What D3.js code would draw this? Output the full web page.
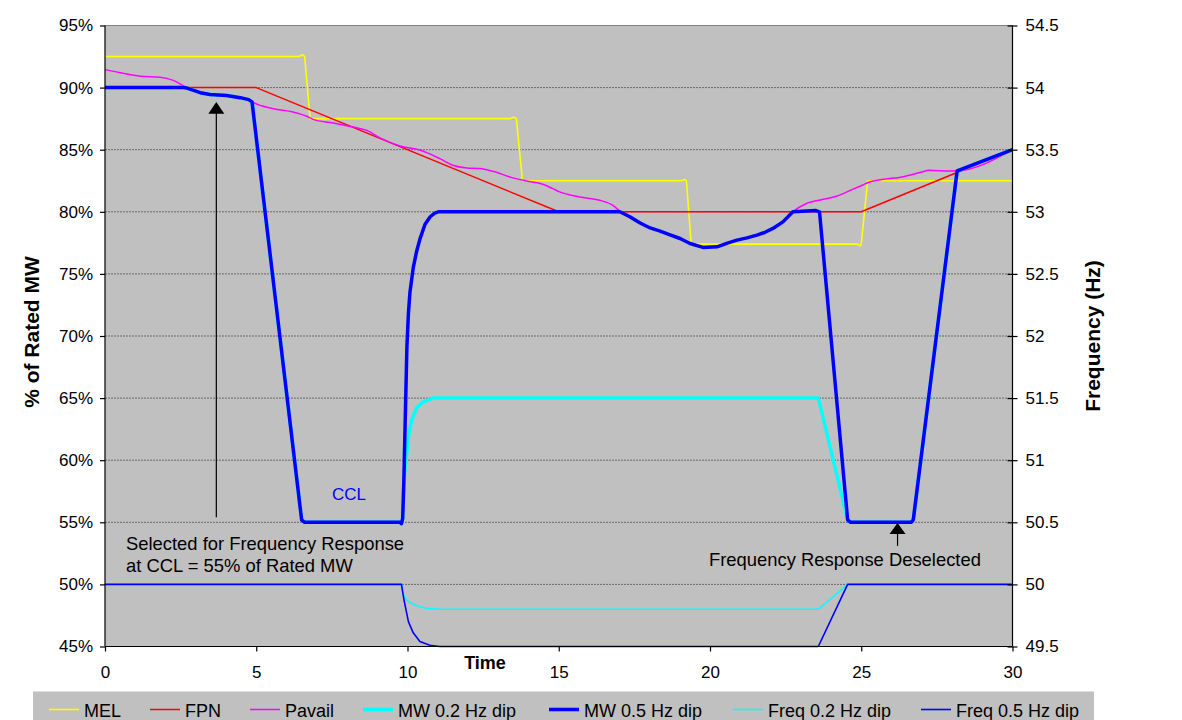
<!DOCTYPE html>
<html>
<head>
<meta charset="utf-8">
<script src="https://cdn.jsdelivr.net/npm/d3@7"></script>
<style>
  html, body { margin: 0; padding: 0; background: #fff; }
  svg { display: block; font-family: "Liberation Sans", Arial, sans-serif; }
</style>
</head>
<body>
<svg id="chart" width="1182" height="720"></svg>
<script>
// ---------------- data ----------------
const timeTicks = [0, 5, 10, 15, 20, 25, 30];
const pctTicks = [45, 50, 55, 60, 65, 70, 75, 80, 85, 90, 95];
const freqTicks = [49.5, 50, 50.5, 51, 51.5, 52, 52.5, 53, 53.5, 54, 54.5];

// MEL (% of rated MW)
const mel = [[0,92.5],[6.4,92.5],[6.54,92.65],[6.6,92.5],[6.78,87.5],[13.38,87.5],[13.52,87.62],[13.6,87.5],[13.8,82.5],
  [19.05,82.5],[19.16,82.6],[19.22,82.5],[19.38,77.4],[24.88,77.4],[24.96,77.25],[25.0,77.4],[25.21,82.5],[30,82.5]];

// FPN (% of rated MW)
const fpn = [[0,90],[5,90],[15,80],[25,80],[30,85]];

// Pavail (% of rated MW)
const pavail = [[0,91.45],[0.5,91.2],[1.17,90.92],[1.83,90.84],[2.26,90.58],[2.71,90.0],[3.15,89.59],[3.47,89.45],
  [4.02,89.37],[4.47,89.19],[4.75,89.03],[4.9,88.8],[5.56,88.3],[6.22,88.03],[6.67,87.69],[6.88,87.44],[7.54,87.15],
  [8.2,86.82],[8.66,86.56],[9.09,85.95],[9.75,85.3],[10.41,84.97],[11.07,84.28],[11.5,83.75],[11.96,83.53],[12.39,83.48],
  [12.82,83.26],[13.48,82.73],[13.94,82.48],[14.47,82.22],[14.8,81.87],[15.03,81.6],[15.69,81.2],[16.35,80.93],
  [16.78,80.53],[17.05,80.0],[17.69,79.1],[18.35,78.45],[19.01,77.85],[19.34,77.45],[19.77,77.13],[20.23,77.18],
  [20.89,77.72],[21.55,78.12],[22.08,78.66],[22.41,79.19],[22.74,80.0],[23.19,80.67],[23.72,80.99],[24.18,81.25],
  [24.6,81.68],[25.03,82.14],[25.27,82.4],[25.69,82.6],[26.35,82.81],[27.01,83.21],[27.24,83.34],[27.9,83.29],
  [28.17,83.3],[30,85]];

// MW output, 0.2 Hz frequency dip (% of rated MW)
const mw02 = [[0,90],[2.6,90],[2.71,89.96],[3.15,89.59],[3.47,89.45],[4.02,89.37],[4.47,89.19],[4.75,89.03],[4.86,88.85],
  [6.5,55.2],[6.6,55],[9.75,55],[9.8,54.9],[9.84,55.3],[9.88,58.4],[9.95,60.0],[10.03,61.9],[10.14,63.25],[10.3,64.2],
  [10.52,64.7],[10.85,65],[23.58,65],[24.55,55.2],[24.65,55],[26.65,55],[26.72,55.2],[28.17,83.3],[30,85]];

// MW output, 0.5 Hz frequency dip (% of rated MW)
const mw05 = [[0,90],[2.6,90],[2.71,89.96],[3.15,89.59],[3.47,89.45],[4.02,89.37],[4.47,89.19],[4.75,89.03],[4.86,88.85],
  [6.5,55.2],[6.6,55],[9.75,55],[9.8,54.9],[9.84,55.3],[9.88,58.4],[9.93,63.8],[9.98,69.1],[10.03,71.8],[10.08,73.5],
  [10.19,75.5],[10.3,76.8],[10.41,77.8],[10.58,79.0],[10.75,79.6],[10.9,79.9],[11.02,80],[17.02,80],[17.35,79.6],
  [17.69,79.1],[18.02,78.7],[18.35,78.45],[18.68,78.15],[19.01,77.85],[19.34,77.45],[19.77,77.13],[20.23,77.18],
  [20.55,77.45],[20.89,77.72],[21.22,77.9],[21.55,78.12],[21.82,78.35],[22.08,78.66],[22.41,79.19],[22.74,80],
  [23.5,80.1],[23.62,80],[24.55,55.2],[24.65,55],[26.65,55],[26.72,55.2],[28.17,83.3],[30,85]];

// Frequency, 0.2 Hz dip (Hz)
const freq02 = [[0,50],[9.8,50],[9.85,49.93],[9.92,49.89],[10.05,49.86],[10.2,49.84],[10.41,49.82],[10.7,49.805],
  [11.07,49.8],[23.58,49.8],[24.55,50],[30,50]];

// Frequency, 0.5 Hz dip (Hz)
const freq05 = [[0,50],[9.8,50],[9.88,49.88],[10.03,49.7],[10.19,49.61],[10.41,49.54],[10.74,49.51],[11.07,49.5],
  [23.58,49.5],[24.55,50],[30,50]];

const seriesNames = ["MEL", "FPN", "Pavail", "MW 0.2 Hz dip", "MW 0.5 Hz dip", "Freq 0.2 Hz dip", "Freq 0.5 Hz dip"];

// ---------------- layout ----------------
const svg = d3.select("#chart");
const L = 105, R = 1012.5, T = 25.5, B = 646.5;

const x = d3.scaleLinear().domain([0, 30]).range([L, R]);
const y = d3.scaleLinear().domain([45, 95]).range([B, T]);
const yF = d3.scaleLinear().domain([49.5, 54.5]).range([B, T]);

// plot background
svg.append("rect").attr("x", L).attr("y", T).attr("width", R - L).attr("height", B - T).attr("fill", "#c0c0c0");

// gridlines
svg.append("g").selectAll("line").data(pctTicks.filter(d => d > 45 && d < 95)).join("line")
  .attr("x1", L).attr("x2", R).attr("y1", d => y(d)).attr("y2", d => y(d))
  .attr("stroke", "#6a6a6a").attr("stroke-width", 1).attr("stroke-dasharray", "2,1");
svg.append("line").attr("x1", L).attr("x2", R).attr("y1", T).attr("y2", T)
  .attr("stroke", "#808080").attr("stroke-width", 1);

// series
const curveSets = [
  { data: mel, color: "#ffff00", w: 1.6, curve: d3.curveLinear, scale: y },
  { data: fpn, color: "#ff0000", w: 1.5, curve: d3.curveLinear, scale: y },
  { data: pavail, color: "#ff00ff", w: 1.5, curve: d3.curveMonotoneX, scale: y },
  { data: mw02, color: "#00ffff", w: 3.5, curve: d3.curveLinear, scale: y },
  { data: mw05, color: "#0000ff", w: 3.5, curve: d3.curveLinear, scale: y },
  { data: freq02, color: "#00ffff", w: 1.6, curve: d3.curveLinear, scale: yF },
  { data: freq05, color: "#0000ff", w: 1.6, curve: d3.curveLinear, scale: yF }
];
const gLines = svg.append("g");
curveSets.forEach(s => {
  const line = d3.line().x(d => x(d[0])).y(d => s.scale(d[1])).curve(s.curve);
  gLines.append("path").attr("d", line(s.data)).attr("fill", "none")
    .attr("stroke", s.color).attr("stroke-width", s.w).attr("stroke-linejoin", "round");
});

// axes
const fs = 17;
const leftAxis = d3.axisLeft(y).tickValues(pctTicks).tickFormat(d => d + "%").tickSize(5).tickPadding(7);
const gL = svg.append("g").attr("transform", `translate(${L},0)`).call(leftAxis);
const rightAxis = d3.axisRight(yF).tickValues(freqTicks).tickFormat(d3.format("")).tickSize(5).tickPadding(8);
const gR = svg.append("g").attr("transform", `translate(${R},0)`).call(rightAxis);
gR.selectAll(".tick line").attr("x1", -5).attr("x2", 5);
const bottomAxis = d3.axisBottom(x).tickValues(timeTicks).tickSize(5).tickPadding(14);
const gB = svg.append("g").attr("transform", `translate(0,${B})`).call(bottomAxis);
[gL, gR, gB].forEach(g => {
  g.selectAll("text").attr("font-size", fs).attr("fill", "#000").attr("font-family", "Liberation Sans, Arial, sans-serif");
  g.selectAll("line,path").attr("stroke", "#000").attr("stroke-width", 1.2);
  g.select(".domain").attr("d", g === gB ? `M${L},0H${R}` : `M0,${T}V${B}`);
});

// axis titles
svg.append("text").attr("transform", `translate(39,${(T + B) / 2 - 4}) rotate(-90)`)
  .attr("text-anchor", "middle").attr("font-weight", "bold").attr("font-size", 21).text("% of Rated MW");
svg.append("text").attr("transform", `translate(1100,${(T + B) / 2}) rotate(-90)`)
  .attr("text-anchor", "middle").attr("font-weight", "bold").attr("font-size", 21).text("Frequency (Hz)");
svg.append("text").attr("x", 485).attr("y", 669).attr("text-anchor", "middle")
  .attr("font-weight", "bold").attr("font-size", 18).text("Time");

// annotations
const ann = svg.append("g");
// arrow 1
const a1x = x(3.68);
ann.append("line").attr("x1", a1x).attr("x2", a1x).attr("y1", y(55.4)).attr("y2", y(88.0))
  .attr("stroke", "#000").attr("stroke-width", 1.2);
ann.append("path").attr("d", `M${a1x},${y(88.85)}L${a1x - 8},${y(87.9)}L${a1x + 8},${y(87.9)}Z`).attr("fill", "#000");
// arrow 2
const a2x = x(26.2);
ann.append("line").attr("x1", a2x).attr("x2", a2x).attr("y1", y(53.1)).attr("y2", y(54.2))
  .attr("stroke", "#000").attr("stroke-width", 1.2);
ann.append("path").attr("d", `M${a2x},${y(54.95)}L${a2x - 8},${y(54.05)}L${a2x + 8},${y(54.05)}Z`).attr("fill", "#000");

ann.append("text").attr("x", 126).attr("y", 550).attr("font-size", 18.4).text("Selected for Frequency Response");
ann.append("text").attr("x", 126).attr("y", 572).attr("font-size", 18.4).text("at CCL = 55% of Rated MW");
ann.append("text").attr("x", 709).attr("y", 566).attr("font-size", 18.4).text("Frequency Response Deselected");
ann.append("text").attr("x", 349).attr("y", 500).attr("text-anchor", "middle").attr("font-size", 17)
  .attr("fill", "#0000ff").text("CCL");

// legend
const legX = [49, 150, 250, 363, 549, 733, 921];
const lg = svg.append("g");
lg.append("rect").attr("x", 33).attr("y", 691.5).attr("width", 1061).attr("height", 40).attr("fill", "#c0c0c0");
curveSets.forEach((s, i) => {
  lg.append("line").attr("x1", legX[i]).attr("x2", legX[i] + 30).attr("y1", 709.5).attr("y2", 709.5)
    .attr("stroke", s.color).attr("stroke-width", s.w);
  lg.append("text").attr("x", legX[i] + 35).attr("y", 716.5).attr("font-size", 18).text(seriesNames[i]);
});
</script>
</body>
</html>
